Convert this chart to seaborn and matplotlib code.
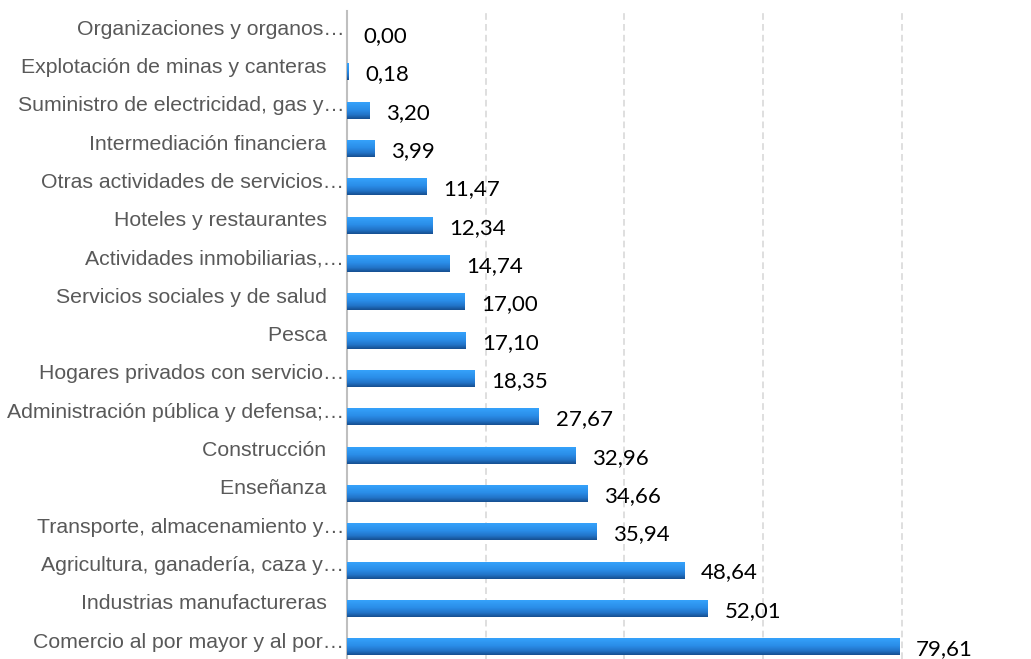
import numpy as np
import pandas as pd
import matplotlib
matplotlib.use("Agg")
import matplotlib.pyplot as plt
import matplotlib.transforms as mtransforms
from matplotlib.colors import LinearSegmentedColormap
import seaborn as sns

categories = [
    "Organizaciones y organos…",
    "Explotación de minas y canteras   ",
    "Suministro de electricidad, gas y…",
    "Intermediación financiera   ",
    "Otras actividades de servicios…",
    "Hoteles y restaurantes   ",
    "Actividades inmobiliarias,…",
    "Servicios sociales y de salud   ",
    "Pesca   ",
    "Hogares privados con servicio…",
    "Administración pública y defensa;…",
    "Construcción   ",
    "Enseñanza   ",
    "Transporte, almacenamiento y…",
    "Agricultura, ganadería, caza y…",
    "Industrias manufactureras   ",
    "Comercio al por mayor y al por…",
]
values = [0.00, 0.18, 3.20, 3.99, 11.47, 12.34, 14.74, 17.00, 17.10, 18.35,
          27.67, 32.96, 34.66, 35.94, 48.64, 52.01, 79.61]
grid_ticks = [20, 40, 60, 80]

df = pd.DataFrame({"cat": categories, "val": values})

sns.set_theme(style="white")
plt.rcParams["font.family"] = ["Liberation Sans", "DejaVu Sans"]

fig = plt.figure(figsize=(10.31, 6.59), dpi=100)
ax = fig.add_axes([347 / 1031, 0.0, 1 - 347 / 1031, 648 / 659])

sns.barplot(data=df, x="val", y="cat", orient="h", width=0.42,
            color="#2A8CE6", ax=ax, zorder=3)

cmap = LinearSegmentedColormap.from_list(
    "bar", [(0.0, "#35A2FB"), (0.45, "#2A8DE8"), (0.75, "#2274C8"), (1.0, "#164F90")])
grad = np.linspace(0, 1, 64).reshape(-1, 1)
for p in ax.patches:
    x0, y0 = p.get_x(), p.get_y()
    w, h = p.get_width(), p.get_height()
    p.set_facecolor("none")
    p.set_edgecolor("none")
    if w > 0:
        ax.imshow(grad, cmap=cmap, aspect="auto", origin="upper",
                  extent=(x0, x0 + w, y0 + h, y0), zorder=3, interpolation="bilinear")

ax.set_xlim(0, 98.6)
ax.set_ylim(16.31, -0.6)

# value labels
for i, v in enumerate(values):
    ax.annotate(f"{v:.2f}".replace(".", ","), xy=(v, i), xytext=(12, -1.5),
                textcoords="offset points", ha="left", va="center",
                fontsize=16, family=["Lato", "DejaVu Sans"], color="#000000", zorder=4)

ax.set_xticks(grid_ticks)
ax.set_xticklabels([])
ax.tick_params(axis="x", length=0)
ax.xaxis.grid(True, color="#D9D9D9", linestyle=(0, (4, 2.5)), linewidth=1.2, zorder=0)
ax.yaxis.grid(False)
ax.set_xlabel("")
ax.set_ylabel("")

ax.set_yticks(range(len(categories)))
ax.set_yticklabels(categories, fontsize=15.3, color="#595959")
ax.tick_params(axis="y", length=0, pad=2)
offset = mtransforms.ScaledTranslation(0, 5 / 72, fig.dpi_scale_trans)
for lab in ax.get_yticklabels():
    lab.set_transform(lab.get_transform() + offset)
ax.set_yticks(range(0, len(categories), 2), minor=True)
ax.tick_params(axis="y", which="minor", length=4, color="#7F7F7F", width=1)

for s in ["top", "right", "bottom"]:
    ax.spines[s].set_visible(False)
ax.spines["left"].set_color("#BFBFBF")
ax.spines["left"].set_linewidth(1.5)

fig.savefig("out.png", dpi=100)
